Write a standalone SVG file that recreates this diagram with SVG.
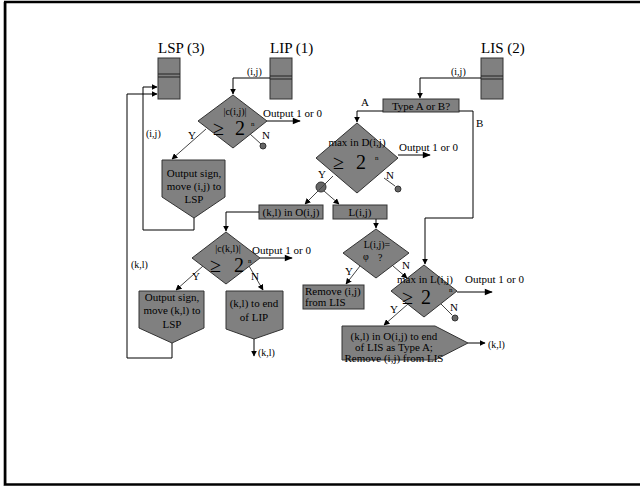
<svg xmlns="http://www.w3.org/2000/svg" width="640" height="486" viewBox="0 0 640 486">
<defs>
<marker id="ah" viewBox="0 0 10 10" refX="9" refY="5" markerWidth="6" markerHeight="6" orient="auto" markerUnits="userSpaceOnUse"><path d="M0,0 L10,5 L0,10 z" fill="#000"/></marker>
<marker id="ahb" viewBox="0 0 10 10" refX="9" refY="5" markerWidth="12" markerHeight="8" orient="auto" markerUnits="userSpaceOnUse"><path d="M0,1 L10,5 L0,9 z" fill="#000"/></marker>
</defs>
<style>
.shape{fill:#808080;stroke:#333;stroke-width:1}
.t{font-family:"Liberation Serif","Times New Roman",serif;fill:#000}
.lbl{font-size:15px}
.s{font-size:11px}
.xs{font-size:10px}
.big{font-size:20px}
.sup{font-size:7px}
.c{text-anchor:middle}
.ln{fill:none;stroke:#000;stroke-width:1}
.lg{fill:none;stroke:#444;stroke-width:1}
.dot{fill:#666;stroke:#333;stroke-width:1}
</style>
<rect x="0" y="0" width="640" height="486" fill="#fff"/>
<line x1="3.5" y1="2" x2="3.5" y2="486" stroke="#bbb" stroke-width="1"/>
<rect x="5.2" y="2" width="640" height="482.5" fill="none" stroke="#000" stroke-width="2.5"/>

<g id="lsp">
<text class="t lbl" x="158" y="53">LSP (3)</text>
<rect class="shape" x="158" y="58" width="22" height="41"/>
<line x1="158" y1="74" x2="180" y2="74" stroke="#222"/>
<line x1="158" y1="77" x2="180" y2="77" stroke="#222"/>
</g>
<g id="lip">
<text class="t lbl" x="270" y="53">LIP (1)</text>
<rect class="shape" x="270" y="58" width="22" height="41"/>
<line x1="270" y1="76" x2="292" y2="76" stroke="#222"/>
<line x1="270" y1="79" x2="292" y2="79" stroke="#222"/>
</g>
<g id="lis">
<text class="t lbl" x="481" y="53">LIS (2)</text>
<rect class="shape" x="481" y="58" width="22" height="41"/>
<line x1="481" y1="76" x2="503" y2="76" stroke="#222"/>
<line x1="481" y1="79" x2="503" y2="79" stroke="#222"/>
</g>

<g id="d1">
<polygon class="shape" points="233,95 267,121 233,148 198,121"/>
<text class="t xs c" x="235" y="115">|c(i,j)|</text>
<text class="t big" x="213" y="135">≥</text>
<text class="t big" x="235" y="135">2</text>
<text class="t sup" x="251" y="126">n</text>
</g>
<g id="p1">
<polygon class="shape" points="162,160 225,160 225,197 194,218 162,197"/>
<text class="t s c" x="194" y="177">Output sign,</text>
<text class="t s c" x="194" y="190">move (i,j) to</text>
<text class="t s c" x="194" y="203">LSP</text>
</g>
<g id="typeab">
<rect class="shape" x="383" y="99" width="76" height="13"/>
<text class="t s c" x="421" y="110">Type A or B?</text>
</g>
<g id="d2">
<polygon class="shape" points="357,123 398,158 357,193 316,158"/>
<text class="t s c" x="357" y="146">max in D(i,j)</text>
<text class="t big" x="333" y="169">≥</text>
<text class="t big" x="356" y="169">2</text>
<text class="t sup" x="375" y="160">n</text>
</g>
<g id="ob">
<rect class="shape" x="259" y="205" width="64" height="14"/>
<text class="t s c" x="291" y="216">(k,l) in O(i,j)</text>
</g>
<g id="lb">
<rect class="shape" x="333" y="205" width="54" height="14"/>
<text class="t s c" x="360" y="216">L(i,j)</text>
</g>
<g id="d4">
<polygon class="shape" points="226,232 260,258 226,284 192,258"/>
<text class="t xs c" x="228" y="252">|c(k,l)|</text>
<text class="t big" x="210" y="272">≥</text>
<text class="t big" x="234" y="272">2</text>
<text class="t sup" x="248" y="263">n</text>
</g>
<g id="p3">
<polygon class="shape" points="139,291 204,291 204,328 172,343 139,328"/>
<text class="t s c" x="172" y="301">Output sign,</text>
<text class="t s c" x="172" y="314">move (k,l) to</text>
<text class="t s c" x="172" y="328">LSP</text>
</g>
<g id="p4">
<polygon class="shape" points="226,291 283,291 283,329 254,339 226,329"/>
<text class="t s c" x="254" y="307">(k,l) to end</text>
<text class="t s c" x="254" y="321">of LIP</text>
</g>
<g id="d5">
<polygon class="shape" points="376,229 409,253 376,278 343,253"/>
<text class="t xs c" x="377" y="248">L(i,j)=</text>
<text class="t xs" x="363" y="260">φ</text>
<text class="t xs" x="378" y="261">?</text>
</g>
<g id="rem">
<rect class="shape" x="303" y="285" width="61" height="24"/>
<text class="t s" x="305" y="295">Remove (i,j)</text>
<text class="t s" x="305" y="306">from LIS</text>
</g>
<g id="d3">
<polygon class="shape" points="424,265 457,291 424,317 391,291"/>
<text class="t s c" x="425" y="283">max in L(i,j)</text>
<text class="t big" x="402" y="304">≥</text>
<text class="t big" x="421" y="304">2</text>
<text class="t sup" x="449" y="292">n</text>
</g>
<g id="p5">
<polygon class="shape" points="342,326 435,326 468,343 435,360 342,360"/>
<text class="t s c" x="394" y="340">(k,l) in O(i,j) to end</text>
<text class="t s c" x="394" y="351">of LIS as Type A;</text>
<text class="t s c" x="394" y="362">Remove (i,j) from LIS</text>
</g>

<g id="connectors">
<path class="ln" d="M270,78 H233 V94" marker-end="url(#ah)"/>
<path class="ln" d="M267,121 H300" marker-end="url(#ahb)"/>
<path class="lg" d="M250,134 L261,144"/>
<circle class="dot" cx="263" cy="146" r="3"/>
<path class="lg" d="M206,129 L172,159" marker-end="url(#ah)"/>
<path class="ln" d="M194,218 V230 H143 V87 H157" marker-end="url(#ah)"/>
<path class="ln" d="M172,343 V358 H127 V94 H157" marker-end="url(#ah)"/>
<path class="ln" d="M481,78 H420 V98" marker-end="url(#ah)"/>
<path class="ln" d="M383,111 H357 V122" marker-end="url(#ah)"/>
<path class="ln" d="M459,111 H473 V218 H425 V264" marker-end="url(#ah)"/>
<path class="ln" d="M398,155 H430" marker-end="url(#ahb)"/>
<path class="lg" d="M384,178 L395,186"/>
<circle class="dot" cx="398" cy="189" r="3"/>
<circle class="dot" cx="321" cy="187" r="5"/>
<path class="lg" d="M333,176 L319,190"/>
<path class="lg" d="M318,191 L305,204" marker-end="url(#ah)"/>
<path class="lg" d="M324,191 L339,204" marker-end="url(#ah)"/>
<path class="ln" d="M259,212 H226 V231" marker-end="url(#ah)"/>
<path class="ln" d="M260,258 H292" marker-end="url(#ahb)"/>
<path class="lg" d="M203,266 L176,290" marker-end="url(#ah)"/>
<path class="lg" d="M249,266 L263,290" marker-end="url(#ah)"/>
<path class="ln" d="M254,339 V356" marker-end="url(#ah)"/>
<path class="ln" d="M376,219 V228" marker-end="url(#ah)"/>
<path class="lg" d="M360,266 L346,284" marker-end="url(#ah)"/>
<path class="lg" d="M393,266 L407,278" marker-end="url(#ah)"/>
<path class="ln" d="M457,292 H492" marker-end="url(#ahb)"/>
<path class="lg" d="M441,304 L452,315"/>
<circle class="dot" cx="455" cy="318" r="3"/>
<path class="lg" d="M408,304 L384,325" marker-end="url(#ah)"/>
<path class="ln" d="M468,343 H485" marker-end="url(#ah)"/>
</g>

<g id="labels">
<text class="t xs" x="247" y="75">(i,j)</text>
<text class="t xs" x="451" y="75">(i,j)</text>
<text class="t xs" x="146" y="137">(i,j)</text>
<text class="t s" x="263" y="117">Output 1 or 0</text>
<text class="t s" x="188" y="139">Y</text>
<text class="t s" x="262" y="139">N</text>
<text class="t s" x="361" y="106">A</text>
<text class="t s" x="476" y="127">B</text>
<text class="t s" x="399" y="151">Output 1 or 0</text>
<text class="t s" x="318" y="178">Y</text>
<text class="t s" x="386" y="179">N</text>
<text class="t s" x="252" y="254">Output 1 or 0</text>
<text class="t s" x="192" y="280">Y</text>
<text class="t s" x="251" y="280">N</text>
<text class="t xs" x="131" y="268">(k,l)</text>
<text class="t xs" x="258" y="356">(k,l)</text>
<text class="t s" x="345" y="275">Y</text>
<text class="t s" x="402" y="269">N</text>
<text class="t s" x="465" y="283">Output 1 or 0</text>
<text class="t s" x="390" y="313">Y</text>
<text class="t s" x="450" y="311">N</text>
<text class="t xs" x="488" y="348">(k,l)</text>
</g>
</svg>
